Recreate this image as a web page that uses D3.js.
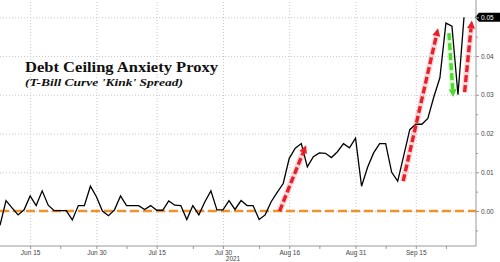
<!DOCTYPE html>
<html>
<head>
<meta charset="utf-8">
<script src="https://cdn.jsdelivr.net/npm/d3@7"></script>
<style>
  body { margin: 0; background: #fff; }
  #chart-area { width: 500px; height: 262px; }
  .axis text { font-family: 'Liberation Sans', Arial, sans-serif; font-size: 6.5px; fill: #444; }
  .axis path, .axis line { stroke: #999; }
  .grid line { stroke: #c8c8c8; stroke-dasharray: 1, 2; }
  .grid path { display: none; }
</style>
</head>
<body>
<div id="chart-area"></div>
<script>
// set margins, width/height
const margin = { left: 0, right: 24, top: 0, bottom: 16 };
const width = 500 - margin.left - margin.right;
const height = 262 - margin.top - margin.bottom;

// trading days (2021), holidays left out
const dates = [
  'Jun 8', 'Jun 9', 'Jun 10', 'Jun 11', 'Jun 14', 'Jun 15', 'Jun 16', 'Jun 17', 'Jun 18',
  'Jun 21', 'Jun 22', 'Jun 23', 'Jun 24', 'Jun 25', 'Jun 28', 'Jun 29', 'Jun 30',
  'Jul 1', 'Jul 2', 'Jul 6', 'Jul 7', 'Jul 8', 'Jul 9', 'Jul 12', 'Jul 13', 'Jul 14',
  'Jul 15', 'Jul 16', 'Jul 19', 'Jul 20', 'Jul 21', 'Jul 22', 'Jul 23', 'Jul 26',
  'Jul 27', 'Jul 28', 'Jul 29', 'Jul 30', 'Aug 2', 'Aug 3', 'Aug 4', 'Aug 5', 'Aug 6',
  'Aug 9', 'Aug 10', 'Aug 11', 'Aug 12', 'Aug 13', 'Aug 16', 'Aug 17', 'Aug 18',
  'Aug 19', 'Aug 20', 'Aug 23', 'Aug 24', 'Aug 25', 'Aug 26', 'Aug 27', 'Aug 30',
  'Aug 31', 'Sep 1', 'Sep 2', 'Sep 3', 'Sep 7', 'Sep 8', 'Sep 9', 'Sep 10', 'Sep 13',
  'Sep 14', 'Sep 15', 'Sep 16', 'Sep 17', 'Sep 20', 'Sep 21', 'Sep 22', 'Sep 23',
  'Sep 24', 'Sep 27',
];

// spread values, one per trading day
const spread = [
  -0.0037, 0.0027, 0.0008, -0.001, 0.0003, 0.0039, 0.0014, 0.0052, 0.0015,
  0.0001, 0.0001, 0.0001, -0.0023, 0.0014, 0.0014, 0.0064, 0.0037,
  0.0, -0.0012, 0.0003, 0.0039, 0.0014, 0.0014, 0.0014, 0.0004, 0.0014,
  0.0002, 0.0002, 0.0026, 0.0015, 0.0014, -0.0022, 0.0014, -0.001,
  0.0024, 0.0052, 0.0003, 0.0003, 0.0027, 0.0004, 0.0027, 0.0014, 0.0014,
  -0.0022, -0.001, 0.0024, 0.0048, 0.0071, 0.0136, 0.0162, 0.0174,
  0.0114, 0.014, 0.015, 0.0149, 0.0138, 0.0153, 0.0174, 0.0163,
  0.0188, 0.0064, 0.0113, 0.015, 0.0174, 0.0174, 0.01, 0.0077, 0.0143,
  0.021, 0.0224, 0.0224, 0.0239, 0.0295, 0.0344, 0.0485, 0.0477,
  0.03, 0.05,
];

const majorTicks = ['Jun 15', 'Jun 30', 'Jul 15', 'Jul 30', 'Aug 16', 'Aug 31', 'Sep 15'];
const minorTicks = ['Jun 22', 'Jul 8', 'Jul 23', 'Aug 9', 'Aug 23', 'Sep 8', 'Sep 22'];
const yTicks = [0, 0.01, 0.02, 0.03, 0.04, 0.05];
const yMinorTicks = [-0.005, 0.005, 0.015, 0.025, 0.035, 0.045];

// annotation arrows: [start day index, start value, end day index, end value]
const redArrows = [
  [46.4, 0.0, 50.8, 0.017],
  [66.9, 0.0077, 72.7, 0.0472],
  [77.1, 0.0307, 78.3, 0.0492],
];
const greenArrows = [[74.5, 0.0459, 75.2, 0.0294]];

const svg = d3
  .select('#chart-area')
  .append('svg')
  .attr('width', 500)
  .attr('height', 262);

const g = svg
  .append('g')
  .attr('transform', `translate(${margin.left}, ${margin.top})`);

//Scales
const x = d3.scaleLinear().domain([0, dates.length - 1]).range([0, 464]);
const y = d3.scaleLinear().domain([-0.00903, 0.05447]).range([height, 0]);
const idx = (d) => dates.indexOf(d);

// grid lines
g.append('g')
  .attr('class', 'grid')
  .attr('transform', `translate(0, ${height})`)
  .call(d3.axisBottom(x).tickValues(majorTicks.map(idx)).tickSize(-height).tickFormat(''));

g.append('g')
  .attr('class', 'grid')
  .call(d3.axisLeft(y).tickValues(yTicks).tickSize(-width).tickFormat(''));

// zero line
g.append('line')
  .attr('x1', 0)
  .attr('x2', width)
  .attr('y1', y(0))
  .attr('y2', y(0))
  .attr('stroke', '#f0922b')
  .attr('stroke-width', 2.6)
  .attr('stroke-dasharray', '9,4');

// x axis
const xAxis = g
  .append('g')
  .attr('class', 'x axis')
  .attr('transform', `translate(0, ${height})`)
  .call(
    d3.axisBottom(x)
      .tickValues(majorTicks.map(idx))
      .tickSize(3)
      .tickPadding(1)
      .tickFormat((d) => dates[d])
  );
xAxis.select('.domain').attr('d', `M0,0H${width}`);

g.append('g')
  .attr('class', 'x axis minor')
  .attr('transform', `translate(0, ${height})`)
  .call(d3.axisBottom(x).tickValues(minorTicks.map(idx)).tickSize(3).tickFormat(''))
  .select('.domain')
  .remove();

g.append('text')
  .attr('x', 233)
  .attr('y', height + 14.5)
  .attr('text-anchor', 'middle')
  .attr('font-family', "'Liberation Sans', Arial, sans-serif")
  .attr('font-size', 6.5)
  .attr('fill', '#444')
  .text('2021');

// last value marker box (drawn under the axis labels)
const last = spread[spread.length - 1];
const ly = y(last);
g.append('path')
  .attr('d', `M${width - 1},${ly} L${width + 3},${ly - 4.5} H500 V${ly + 4.5} H${width + 3} Z`)
  .attr('fill', '#000');

// y axis on the right
const yAxis = g
  .append('g')
  .attr('class', 'y axis')
  .attr('transform', `translate(${width}, 0)`)
  .call(
    d3.axisRight(y)
      .tickValues(yTicks)
      .tickSize(3)
      .tickPadding(2)
      .tickFormat(d3.format('.2f'))
  );
yAxis.select('.domain').attr('d', `M0,0V${height}`);
yAxis
  .selectAll('.tick')
  .filter((d) => d === last)
  .select('text')
  .style('fill', '#fff');

g.append('g')
  .attr('class', 'y axis minor')
  .attr('transform', `translate(${width}, 0)`)
  .call(d3.axisRight(y).tickValues(yMinorTicks).tickSize(2).tickFormat(''))
  .select('.domain')
  .remove();

//Line Generator
const line = d3
  .line()
  .x((d, i) => x(i))
  .y((d) => y(d));

g.append('path')
  .datum(spread)
  .attr('fill', 'none')
  .attr('stroke', '#000')
  .attr('stroke-width', 1.3)
  .attr('d', line);

// arrows
function drawArrow(a, color) {
  const x1 = x(a[0]);
  const y1 = y(a[1]);
  const x2 = x(a[2]);
  const y2 = y(a[3]);
  const ang = Math.atan2(y2 - y1, x2 - x1);
  const headLen = 8;
  const headW = 4;
  const bx = x2 - headLen * Math.cos(ang);
  const by = y2 - headLen * Math.sin(ang);
  const px = -Math.sin(ang) * headW;
  const py = Math.cos(ang) * headW;
  const ag = g.append('g');
  // soft halo
  ag.append('line')
    .attr('x1', x1)
    .attr('y1', y1)
    .attr('x2', bx)
    .attr('y2', by)
    .attr('stroke', color)
    .attr('stroke-opacity', 0.18)
    .attr('stroke-width', 6);
  ag.append('line')
    .attr('x1', x1)
    .attr('y1', y1)
    .attr('x2', bx)
    .attr('y2', by)
    .attr('stroke', color)
    .attr('stroke-width', 3.4)
    .attr('stroke-dasharray', '7,3');
  ag.append('path')
    .attr('d', `M${x2},${y2} L${bx + px},${by + py} L${bx - px},${by - py} Z`)
    .attr('fill', color);
}
redArrows.forEach((a) => drawArrow(a, '#e8202a'));
greenArrows.forEach((a) => drawArrow(a, '#4cdc2e'));

// titles
g.append('text')
  .attr('x', 25)
  .attr('y', 72)
  .attr('font-family', "'Liberation Serif', 'Times New Roman', serif")
  .attr('font-weight', 'bold')
  .attr('font-size', 14.5)
  .attr('fill', '#111')
  .attr('textLength', 193)
  .attr('lengthAdjust', 'spacingAndGlyphs')
  .text('Debt Ceiling Anxiety Proxy');

g.append('text')
  .attr('x', 25)
  .attr('y', 86)
  .attr('font-family', "'Liberation Serif', 'Times New Roman', serif")
  .attr('font-weight', 'bold')
  .attr('font-style', 'italic')
  .attr('font-size', 10.5)
  .attr('fill', '#111')
  .attr('textLength', 158)
  .attr('lengthAdjust', 'spacingAndGlyphs')
  .text("(T-Bill Curve 'Kink' Spread)");
</script>
</body>
</html>
